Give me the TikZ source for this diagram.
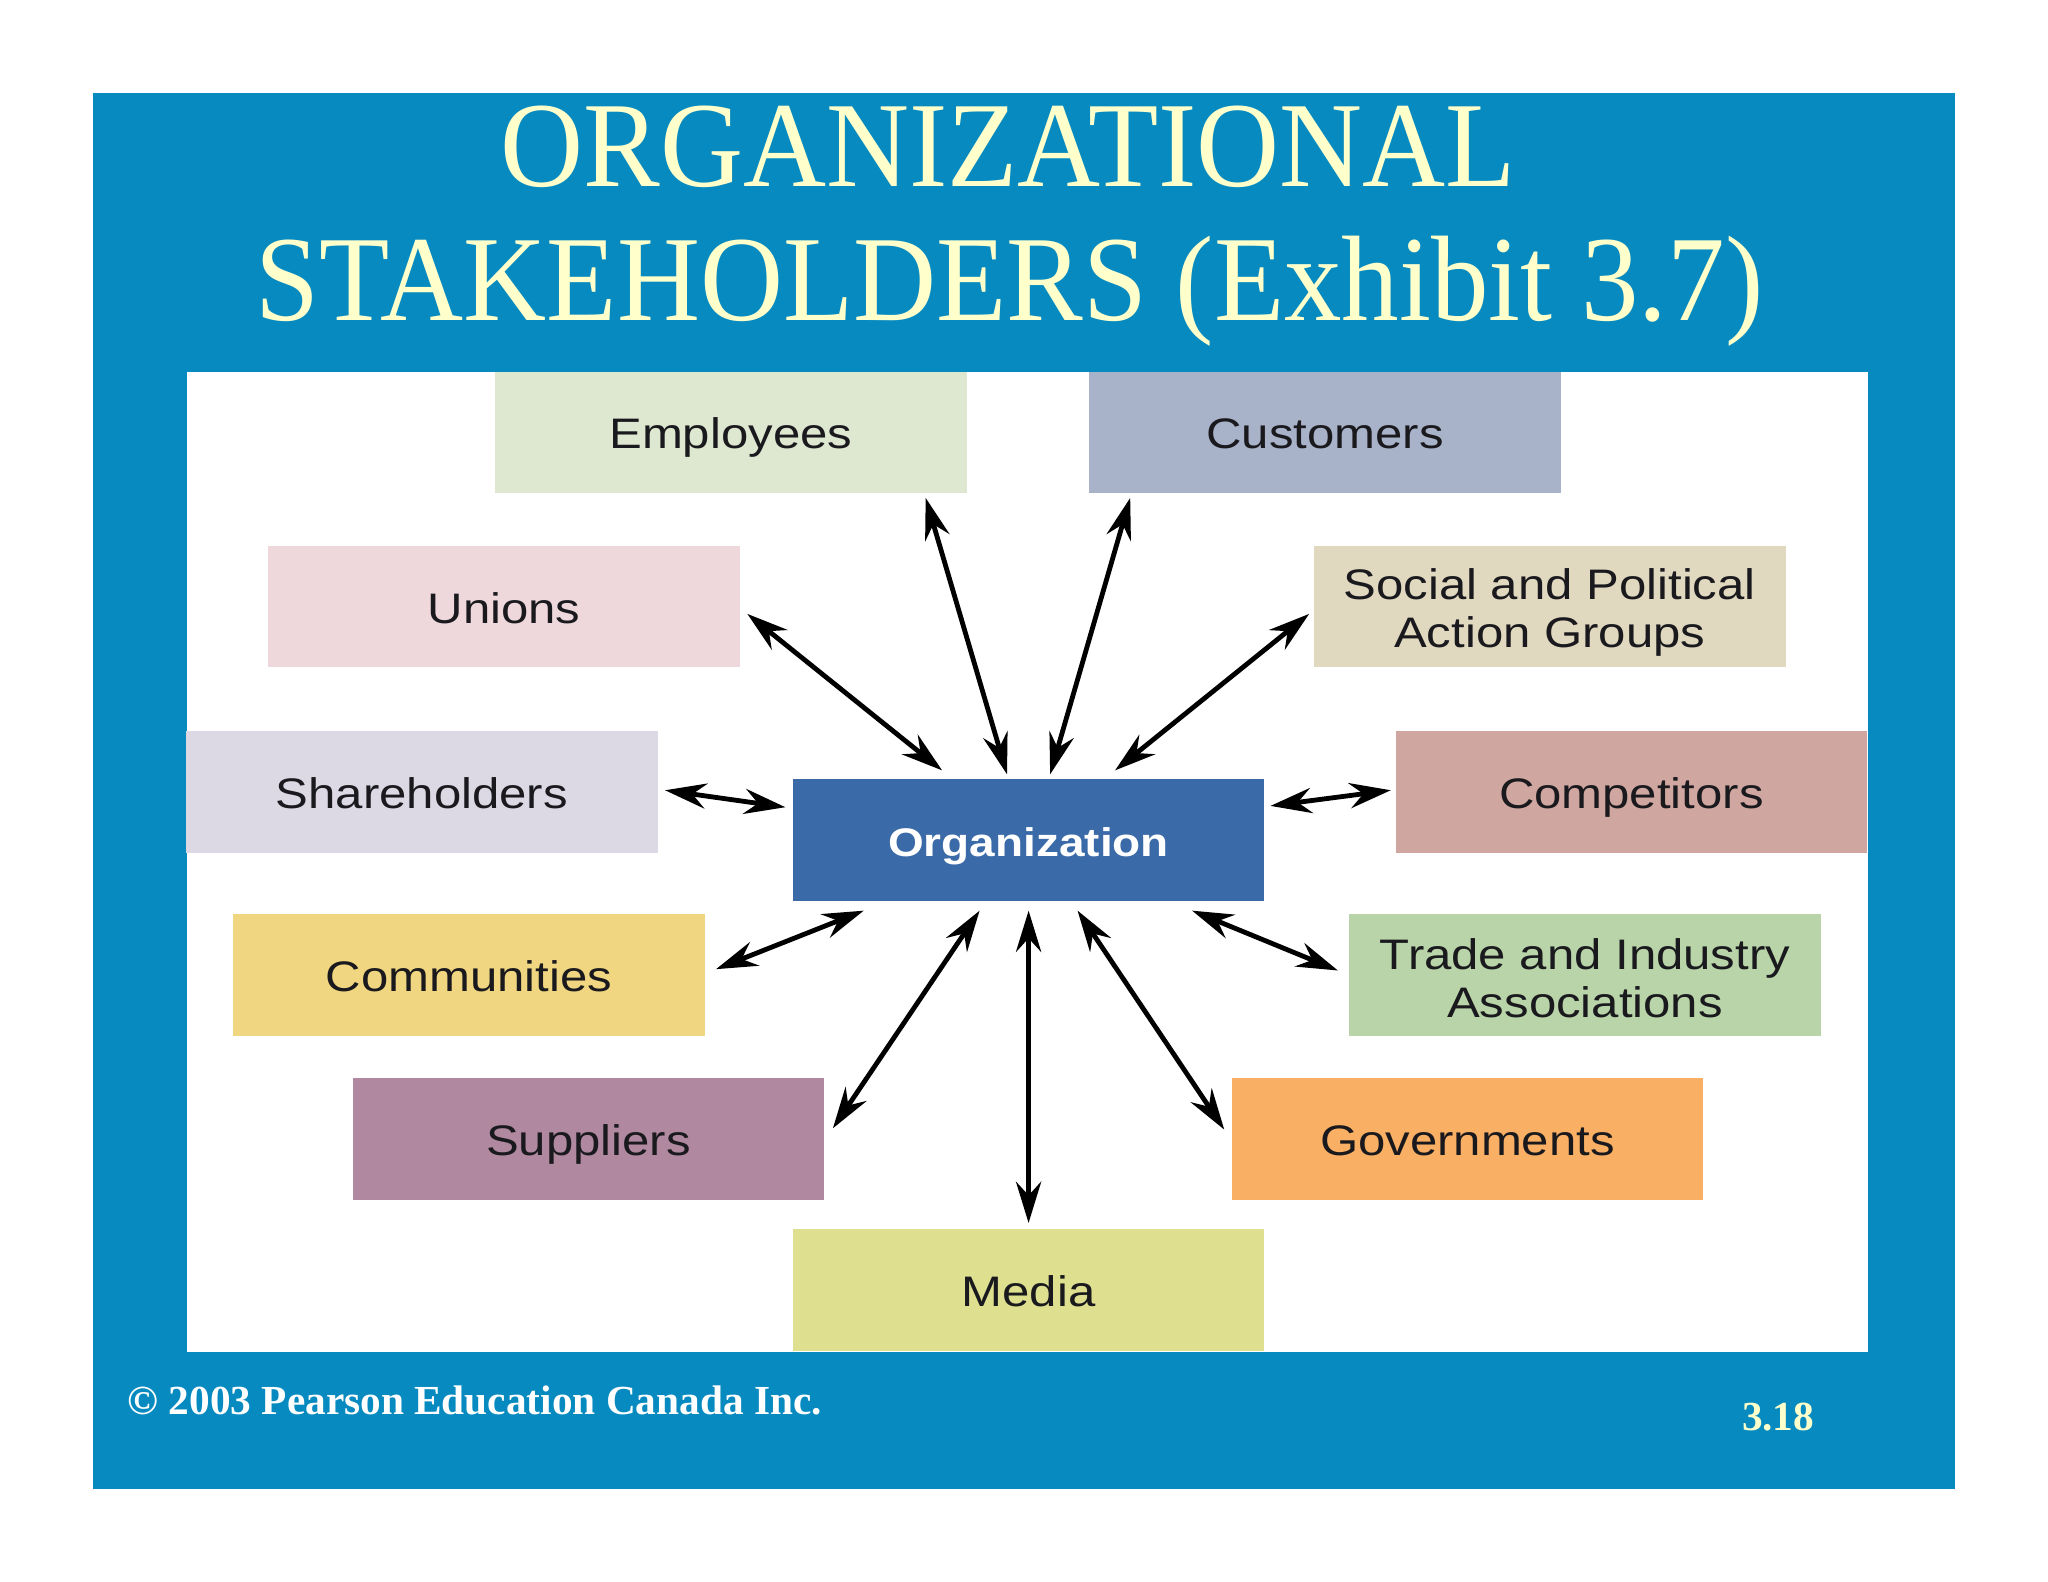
\documentclass[tikz,border=0pt]{standalone}
\usepackage{fontspec}
\setmainfont{Liberation Serif}
\newfontfamily\boxfont[FakeStretch=1.15]{Liberation Sans}
\newfontfamily\titlefont[FakeStretch=0.945]{Liberation Serif}
\usetikzlibrary{arrows.meta}

\definecolor{slideblue}{RGB}{6,138,192}
\definecolor{titlecol}{RGB}{255,255,204}
\definecolor{boxtext}{RGB}{26,26,30}
\definecolor{orgcol}{RGB}{59,106,168}
\definecolor{empcol}{RGB}{222,232,208}
\definecolor{cuscol}{RGB}{168,178,200}
\definecolor{unicol}{RGB}{238,216,220}
\definecolor{soccol}{RGB}{225,216,192}
\definecolor{shacol}{RGB}{220,216,228}
\definecolor{compcol}{RGB}{208,166,160}
\definecolor{ctycol}{RGB}{240,214,128}
\definecolor{tracol}{RGB}{184,212,168}
\definecolor{supcol}{RGB}{176,136,160}
\definecolor{govcol}{RGB}{250,176,100}
\definecolor{medcol}{RGB}{222,224,144}

\tikzset{
  stake/.style={minimum width=3.61cm, minimum height=0.93cm, inner sep=0pt,
    align=center, text=boxtext, font=\boxfont\fontsize{9.3}{10.5}\selectfont},
  oneline/.style={text height=7.2pt, text depth=0pt},
  twoway/.style={line width=1.05pt, >={Stealth[length=9pt,width=5.5pt,inset=3pt]}, <->}
}

\begin{document}
\begin{tikzpicture}[x=1cm,y=-1cm]

      \useasboundingbox (0,0) rectangle (15.68,12.11);
      \fill[white] (0,0) rectangle (15.68,12.11);
      \fill[slideblue] (0.71,0.71) rectangle (14.97,11.40);
      \fill[white] (1.43,2.85) rectangle (14.30,10.35);

      \node[anchor=base, text=titlecol, font=\titlefont\fontsize{26.5}{29}\selectfont] (t1) at (7.72,1.43) {ORGANIZATIONAL};
      \node[anchor=base, text=titlecol, font=\titlefont\fontsize{26.5}{29}\selectfont] (t2) at (7.73,2.45) {STAKEHOLDERS (Exhibit 3.7)};

      \begin{scope}[every node/.style={stake}]
        \node[fill=empcol, oneline]  (emp)  at (5.595,3.31)  {Employees};
        \node[fill=cuscol, oneline]  (cus)  at (10.145,3.31) {Customers};
        \node[fill=unicol, oneline]  (uni)  at (3.86,4.645)  {Unions};
        \node[fill=soccol]  (soc)  at (11.865,4.645) {\rule{0pt}{9.1pt}Social and Political\\Action Groups};
        \node[fill=shacol, oneline]  (sha)  at (3.23,6.065)  {Shareholders};
        \node[fill=compcol, oneline] (comp) at (12.49,6.065) {Competitors};
        \node[fill=orgcol, oneline, text=white, font=\boxfont\bfseries\fontsize{8.7}{10}\selectfont] (org) at (7.875,6.43) {Organization};
        \node[fill=ctycol, oneline]  (cty)  at (3.59,7.465)  {Communities};
        \node[fill=tracol]  (tra)  at (12.135,7.465) {\rule{0pt}{8pt}Trade and Industry\\Associations};
        \node[fill=supcol, oneline]  (sup)  at (4.505,8.72)  {Suppliers};
        \node[fill=govcol, oneline]  (gov)  at (11.235,8.72) {Governments};
        \node[fill=medcol, oneline]  (med)  at (7.875,9.875) {Media};
      \end{scope}

      \begin{scope}[every edge/.style={draw, twoway}]
        \path ([shift={(-0.165,-0.03)}]org.north) edge ([shift={(-0.32,0.03)}]emp.south east);
        \path ([shift={(0.165,-0.03)}]org.north)  edge ([shift={(0.32,0.03)}]cus.south west);
        \path ([shift={(1.15,-0.06)}]org.north west) edge ([shift={(0.05,0.055)}]uni.east);
        \path ([shift={(-1.15,-0.06)}]org.north east) edge ([shift={(-0.03,0.055)}]soc.west);
        \path ([shift={(-0.05,-0.25)}]org.west)  edge ([shift={(0.05,-0.015)}]sha.east);
        \path ([shift={(0.04,-0.26)}]org.east)   edge ([shift={(-0.03,-0.015)}]comp.west);
        \path ([shift={(0.55,0.07)}]org.south west) edge ([shift={(0.08,-0.045)}]cty.east);
        \path ([shift={(-0.56,0.07)}]org.south east) edge ([shift={(-0.08,-0.035)}]tra.west);
        \path ([shift={(-0.375,0.07)}]org.south) edge ([shift={(0.06,0.39)}]sup.north east);
        \path ([shift={(0.375,0.07)}]org.south)  edge ([shift={(-0.05,0.40)}]gov.north west);
        \path ([shift={(0,0.07)}]org.south)      edge ([shift={(0,-0.04)}]med.north);
      \end{scope}

      \node[anchor=base west, inner sep=0pt, text=white, font=\bfseries\fontsize{9}{11}\selectfont] (copy) at (0.97,10.83) {\textcopyright{} 2003 Pearson Education Canada Inc.};
      \node[anchor=base west, inner sep=0pt, text=titlecol, font=\bfseries\fontsize{9}{11}\selectfont] (num) at (13.33,10.95) {3.18};

    \end{tikzpicture}
\end{document}
